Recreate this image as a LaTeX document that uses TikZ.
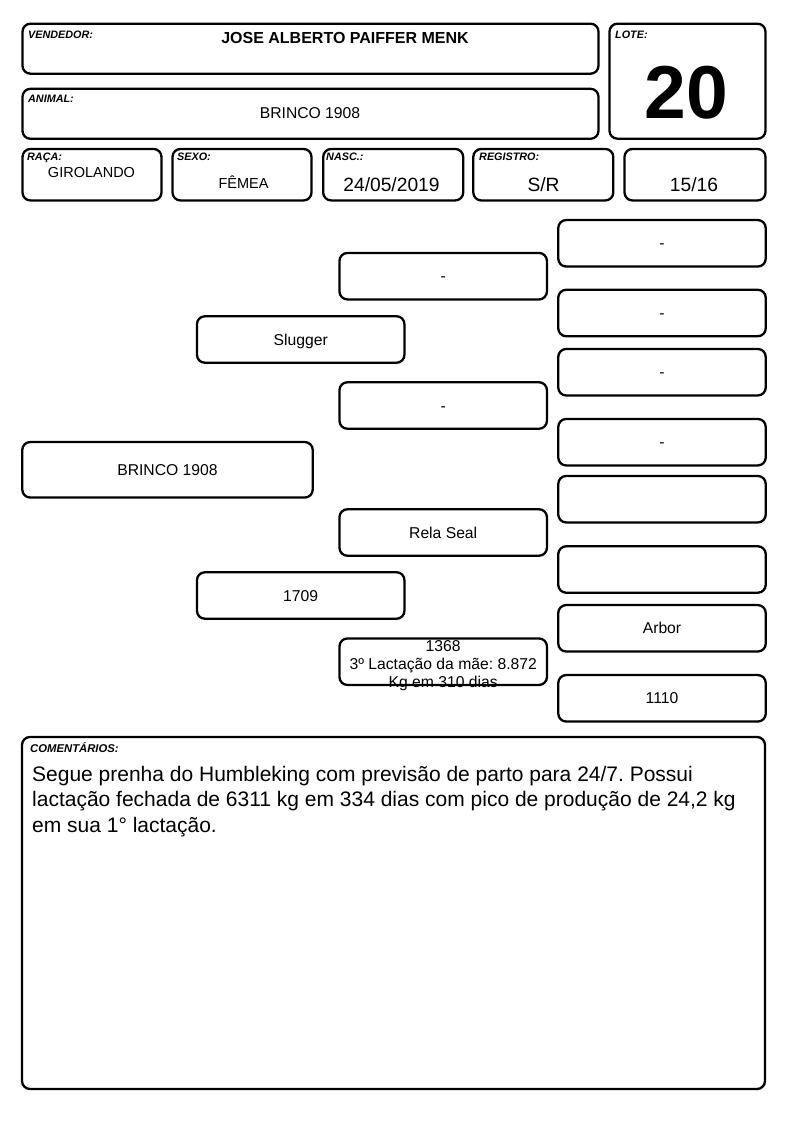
\documentclass[tikz,border=0pt]{standalone}
\usepackage{fontspec}
\setmainfont{Liberation Sans}
\usetikzlibrary{positioning}
\frenchspacing
\tikzset{
	field/.style = {draw, line width=2.3pt, rounded corners=8pt, rectangle, inner sep=0pt},
	pedbox/.style = {field, minimum width=207.5pt, minimum height=46.5pt, font=\fontsize{15.7}{18}\selectfont, text height=14pt, text depth=3pt},
	tag/.style = {anchor=base west, inner sep=0pt, font=\fontsize{10.8}{12}\selectfont\bfseries\itshape},
	value/.style = {anchor=base, inner sep=0pt, font=\fontsize{15.7}{18}\selectfont},
	bigvalue/.style = {value, font=\fontsize{19.2}{22}\selectfont},
	smallvalue/.style = {value, font=\fontsize{14.5}{17}\selectfont}
}
\begin{document}
\begin{tikzpicture}[x=1pt,y=-1pt]
	\useasboundingbox (0,0) rectangle (794,1123);
	% header
	\node[field, minimum width=576pt, minimum height=50pt] (vendor) at (310.5,48.7) {};
	\node[field, minimum width=576pt, minimum height=50pt] (animal) at (310.5,113.8) {};
	\node[field, minimum width=156pt, minimum height=115pt] (lot) at (687.5,81.2) {};
	\node[tag] (vendortag) at (28,39) {VENDEDOR:};
	\node[tag] (animaltag) at (28,102.3) {ANIMAL:};
	\node[tag] (lottag) at (615,39) {LOTE:};
	\node[value, font=\fontsize{16}{19}\selectfont\bfseries] (vendorname) at (345,43.3) {JOSE ALBERTO PAIFFER MENK};
	\node[value] (animalname) at (310,119) {BRINCO 1908};
	\node[value, font=\fontsize{75}{80}\selectfont\bfseries] (lotnumber) at (686.5,119) {20};
	% second row
	\node[field, minimum width=139pt, minimum height=51.5pt] (breed) at (92,174.7) {};
	\node[field, minimum width=139pt, minimum height=51.5pt] (sex) at (242,174.7) {};
	\node[field, minimum width=140pt, minimum height=51.5pt] (birth) at (393.2,174.7) {};
	\node[field, minimum width=140pt, minimum height=51.5pt] (register) at (543.3,174.7) {};
	\node[field, minimum width=141pt, minimum height=51.5pt] (grade) at (695,174.7) {};
	\node[tag] (breedtag) at (27,161) {RAÇA:};
	\node[tag] (sextag) at (177,161) {SEXO:};
	\node[tag] (birthtag) at (326,161) {NASC.:};
	\node[tag] (registertag) at (479,161) {REGISTRO:};
	\node[smallvalue] (breedvalue) at (91.5,177.7) {GIROLANDO};
	\node[smallvalue] (sexvalue) at (243.5,188.3) {FÊMEA};
	\node[bigvalue] (birthvalue) at (391.5,191.2) {24/05/2019};
	\node[bigvalue] (registervalue) at (543.5,191.7) {S/R};
	\node[bigvalue] (gradevalue) at (694,191.7) {15/16};
	% pedigree
	\node[pedbox, minimum width=290.5pt, minimum height=55.5pt] (self) at (167.5,469.8) {BRINCO 1908};
	\node[pedbox] (sire) at (300.7,339.5) {Slugger};
	\node[pedbox] (dam) at (300.7,595.5) {1709};
	\node[pedbox] (ss) at (443.2,276.2) {-};
	\node[pedbox] (sd) at (443.2,405.5) {-};
	\node[pedbox] (ds) at (443.2,532.5) {Rela Seal};
	\node[pedbox] (dd) at (443.2,661.7) {};
	\node[value, align=center, anchor=center] (ddtext) at (443.2,665.7) {1368\\3º Lactação da mãe: 8.872\\Kg em 310 dias};
	\node[pedbox] (sss) at (662,243.3) {-};
	\node[pedbox] (ssd) at (662,313) {-};
	\node[pedbox] (sds) at (662,372.2) {-};
	\node[pedbox] (sdd) at (662,442.2) {-};
	\node[pedbox] (dss) at (662,499.2) {};
	\node[pedbox] (dsd) at (662,569.5) {};
	\node[pedbox] (dds) at (662,628.3) {Arbor};
	\node[pedbox] (ddd) at (662,698.3) {1110};
	% comments
	\node[field, minimum width=743pt, minimum height=352pt] (notes) at (393.5,913) {};
	\node[tag, font=\fontsize{11.3}{13}\selectfont\bfseries\itshape] (notestag) at (30,752) {COMENTÁRIOS:};
	\node[anchor=north west, inner sep=0pt, align=left, font=\fontsize{21}{25.5}\selectfont] (notestext) at (32,766)
		{Segue prenha do Humbleking com previsão de parto para 24/7. Possui\\
		 lactação fechada de 6311 kg em 334 dias com pico de produção de 24,2 kg\\
		 em sua 1° lactação.};
\end{tikzpicture}
\end{document}
